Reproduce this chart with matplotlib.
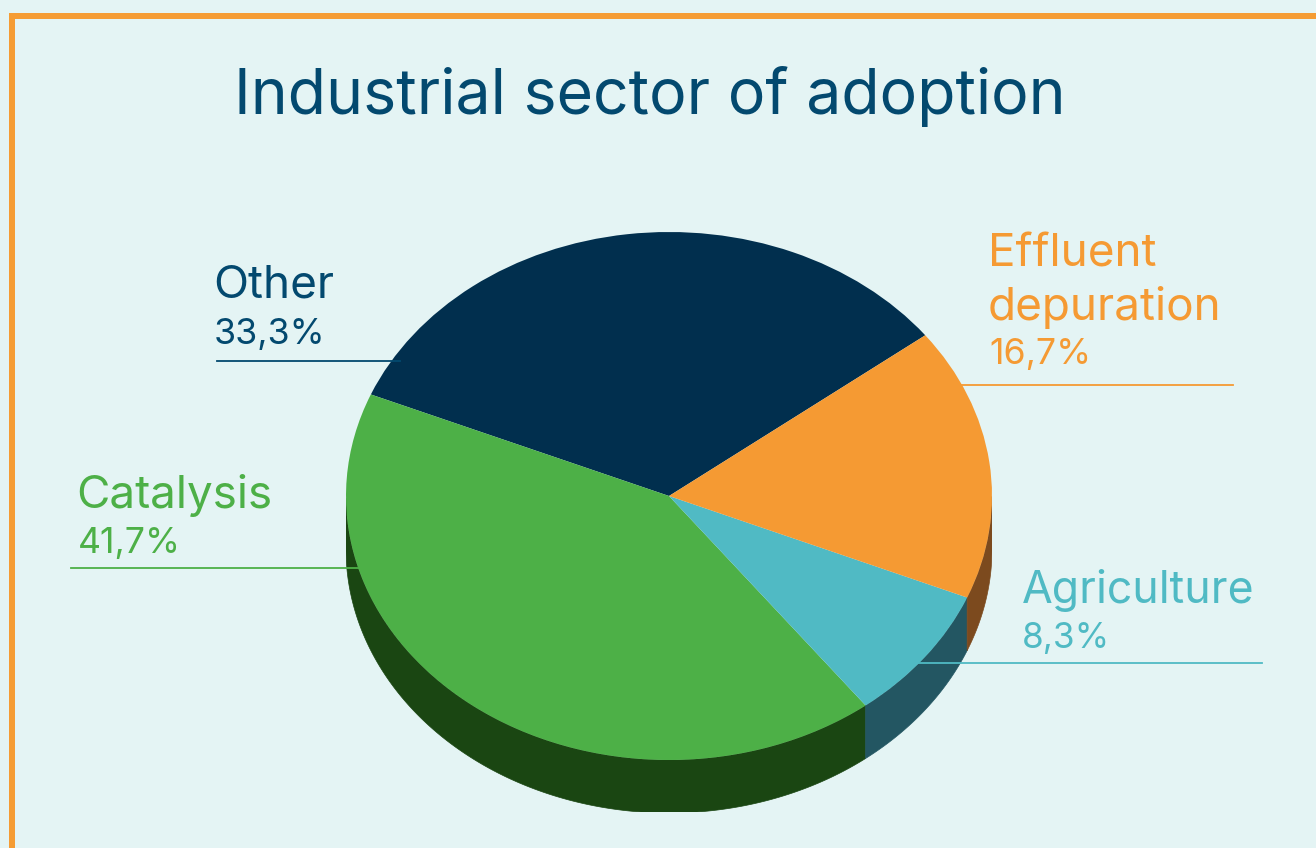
import matplotlib
matplotlib.use("Agg")
import matplotlib.pyplot as plt
from matplotlib.patches import Polygon, Rectangle
import numpy as np

W, H = 1316, 848

TITLE = "Industrial sector of adoption"
sectors = ["Other", "Catalysis", "Agriculture", "Effluent\ndepuration"]
shares = [33.3, 41.7, 8.3, 16.7]
share_labels = ["33,3%", "41,7%", "8,3%", "16,7%"]
top_colors = ["#012F4E", "#4DB047", "#50BAC4", "#F59A33"]
side_colors = ["#012F4E", "#1A4612", "#235662", "#7C4A1E"]
text_colors = ["#03496F", "#4DB047", "#50BAC4", "#F59A33"]

BACKGROUND = "#E4F4F4"
BORDER = "#F59C34"

plt.rcParams["font.family"] = ["Inter", "DejaVu Sans"]

fig = plt.figure(figsize=(W / 100, H / 100), dpi=100, facecolor=BACKGROUND)

# Pixel-space overlay for the frame, text and leader lines
page = fig.add_axes([0, 0, 1, 1], zorder=3)
page.set_xlim(0, W)
page.set_ylim(H, 0)
page.axis("off")

# Pie axes: one data unit is the ellipse's radius along each direction
rx, ry, cy = 323, 264, 496
left, right, top, bottom = 346, 992, cy - ry, 812
pie_ax = fig.add_axes([left / W, 1 - bottom / H, (right - left) / W, (bottom - top) / H], zorder=1)
wedges, _ = pie_ax.pie(shares, colors=top_colors, startangle=37.5, radius=1.0,
                       center=(0, 0), wedgeprops={"linewidth": 0})
pie_ax.set_aspect("auto")
pie_ax.set_xlim(-1, 1)
pie_ax.set_ylim(1 - (bottom - top) / ry, 1)
pie_ax.axis("off")

# Rim of the disc: the visible lower half of each wedge pushed down by the thickness
thickness = 53 / ry
for wedge, shade in zip(wedges, side_colors):
    t = np.radians(np.linspace(wedge.theta1, wedge.theta2, 300))
    t = t[np.sin(t) <= 0.0]
    if t.size < 2:
        continue
    upper = np.column_stack([np.cos(t), np.sin(t)])
    lower = upper[::-1] - [0, thickness]
    pie_ax.add_patch(Polygon(np.vstack([upper, lower]), closed=True, facecolor=shade,
                             edgecolor=shade, linewidth=0.5, zorder=0))

# Frame open to the right and the bottom
page.add_patch(Rectangle((9, 13), W, 5.5, facecolor=BORDER, edgecolor="none"))
page.add_patch(Rectangle((9, 13), 6, H, facecolor=BORDER, edgecolor="none"))

page.text(649.5, 114, TITLE, color="#03496F", fontsize=45.05, ha="center", va="baseline")

# Label anchors: name baseline, percentage baseline, leader line span
label_x = [213, 76.5, 1022, 988]
pct_x = [214, 77.5, 1022, 989]
name_y = [298, 508, 603, 320]
pct_y = [344, 553, 648, 364]
line_y = [360.5, 568, 662.5, 384.5]
line_x0 = [217, 71, 915, 960]
line_x1 = [400, 360, 1262, 1233]
name_sizes = [33, 33, 32.1, 33]
pct_sizes = [25.7, 25.7, 25.3, 25.7]

for i, name in enumerate(sectors):
    page.text(label_x[i], name_y[i], name, color=text_colors[i], fontsize=name_sizes[i],
              ha="left", va="baseline", linespacing=1.3)
    page.text(pct_x[i], pct_y[i], share_labels[i], color=text_colors[i], fontsize=pct_sizes[i],
              ha="left", va="baseline")
    page.plot([line_x0[i], line_x1[i]], [line_y[i], line_y[i]], color=text_colors[i], lw=1.3)

fig.savefig("out.png", dpi=100, facecolor=BACKGROUND)
